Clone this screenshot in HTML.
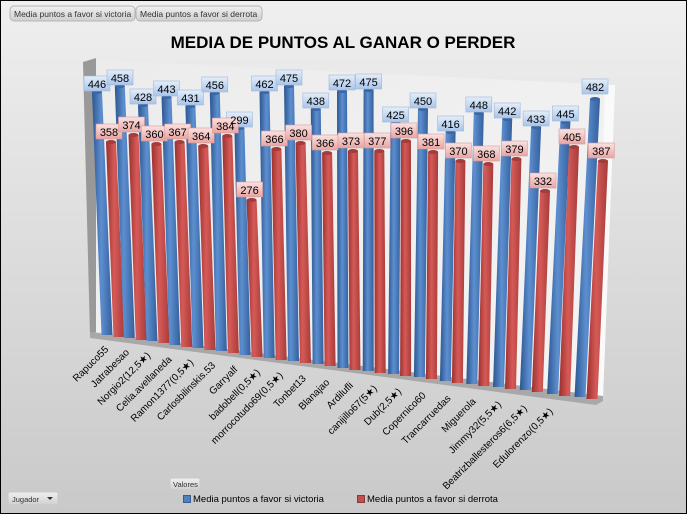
<!DOCTYPE html>
<html><head><meta charset="utf-8"><style>
html,body{margin:0;padding:0}
body{width:688px;height:515px;overflow:hidden;font-family:"Liberation Sans","DejaVu Sans",sans-serif}
</style></head><body>
<svg width="688" height="515" viewBox="0 0 688 515" xmlns="http://www.w3.org/2000/svg" font-family="Liberation Sans, DejaVu Sans, sans-serif">
<defs>
<linearGradient id="bg" x1="0" y1="0" x2="0" y2="1"><stop offset="0" stop-color="#efefef"/><stop offset="1" stop-color="#c9c9c9"/></linearGradient>
<linearGradient id="wall" x1="0" y1="0" x2="1" y2="1"><stop offset="0" stop-color="#ececec"/><stop offset="1" stop-color="#f4f4f4"/></linearGradient>
<linearGradient id="bl" x1="0" y1="0" x2="1" y2="0"><stop offset="0" stop-color="#2c5690"/><stop offset="0.45" stop-color="#5d8fd0"/><stop offset="1" stop-color="#345f9c"/></linearGradient>
<linearGradient id="rd" x1="0" y1="0" x2="1" y2="0"><stop offset="0" stop-color="#9a302e"/><stop offset="0.45" stop-color="#d65a57"/><stop offset="1" stop-color="#a63c3a"/></linearGradient>
<linearGradient id="lb" x1="0" y1="0" x2="0" y2="1"><stop offset="0" stop-color="#e4eefa"/><stop offset="1" stop-color="#a9c5ea"/></linearGradient>
<linearGradient id="lr" x1="0" y1="0" x2="0" y2="1"><stop offset="0" stop-color="#fbe2e1"/><stop offset="1" stop-color="#e7a5a3"/></linearGradient>
<linearGradient id="btn" x1="0" y1="0" x2="0" y2="1"><stop offset="0" stop-color="#f0f0f0"/><stop offset="1" stop-color="#cfcfcf"/></linearGradient>
</defs>
<rect x="0.5" y="0.5" width="686" height="513" fill="url(#bg)" stroke="#000" stroke-width="1"/>
<rect x="10" y="6" width="125" height="15" rx="4" fill="url(#btn)" stroke="#b5b5b5"/>
<text x="14" y="17" font-size="8.5" fill="#333">Media puntos a favor si victoria</text>
<rect x="136" y="6" width="126" height="15" rx="4" fill="url(#btn)" stroke="#b5b5b5"/>
<text x="140" y="17" font-size="8.5" fill="#333">Media puntos a favor si derrota</text>
<text x="343" y="48" font-size="17" font-weight="bold" text-anchor="middle" fill="#000">MEDIA DE PUNTOS AL GANAR O PERDER</text>
<polygon points="95,60 615,85 603,398 95,332" fill="url(#wall)"/>
<polygon points="605,85 615,85 603,398 596,398" fill="#fafafa"/>
<polygon points="83,62 96,58 96,332 90,336" fill="#999"/>
<polygon points="90,332 603,396 603,401 596,405 90,338" fill="#a8a8a8"/>
<g stroke="none">
<path d="M92,92 L102,92 L112.5,335 L101.5,335Z" fill="url(#bl)"/><ellipse cx="97" cy="92" rx="5" ry="2" fill="#3a66a5"/>
<path d="M106,142 L116,142 L124.5,337 L113.5,337Z" fill="url(#rd)"/><ellipse cx="111" cy="142" rx="5" ry="2" fill="#a33c3a"/>
<path d="M114.8,86 L124.8,86 L134.8,338 L123.8,338Z" fill="url(#bl)"/><ellipse cx="119.8" cy="86" rx="5" ry="2" fill="#3a66a5"/>
<path d="M128.5,135 L138.5,135 L146.8,340 L135.8,340Z" fill="url(#rd)"/><ellipse cx="133.5" cy="135" rx="5" ry="2" fill="#a33c3a"/>
<path d="M138,105 L148,105 L157.5,341 L146.5,341Z" fill="url(#bl)"/><ellipse cx="143" cy="105" rx="5" ry="2" fill="#3a66a5"/>
<path d="M151.4,144 L161.4,144 L169.5,343 L158.5,343Z" fill="url(#rd)"/><ellipse cx="156.4" cy="144" rx="5" ry="2" fill="#a33c3a"/>
<path d="M161.5,97 L171.5,97 L180.3,345 L169.3,345Z" fill="url(#bl)"/><ellipse cx="166.5" cy="97" rx="5" ry="2" fill="#3a66a5"/>
<path d="M174.6,142 L184.6,142 L192.3,347 L181.3,347Z" fill="url(#rd)"/><ellipse cx="179.6" cy="142" rx="5" ry="2" fill="#a33c3a"/>
<path d="M185.4,106 L195.4,106 L203.5,348 L192.5,348Z" fill="url(#bl)"/><ellipse cx="190.4" cy="106" rx="5" ry="2" fill="#3a66a5"/>
<path d="M198.2,146 L208.2,146 L215.5,350 L204.5,350Z" fill="url(#rd)"/><ellipse cx="203.2" cy="146" rx="5" ry="2" fill="#a33c3a"/>
<path d="M209.8,93 L219.8,93 L226.9,351 L215.9,351Z" fill="url(#bl)"/><ellipse cx="214.8" cy="93" rx="5" ry="2" fill="#3a66a5"/>
<path d="M222.3,136 L232.3,136 L238.9,353 L227.9,353Z" fill="url(#rd)"/><ellipse cx="227.3" cy="136" rx="5" ry="2" fill="#a33c3a"/>
<path d="M234.4,128 L244.4,128 L250.6,355 L239.6,355Z" fill="url(#bl)"/><ellipse cx="239.4" cy="128" rx="5" ry="2" fill="#3a66a5"/>
<path d="M246.6,200 L256.6,200 L262.6,357 L251.6,357Z" fill="url(#rd)"/><ellipse cx="251.6" cy="200" rx="5" ry="2" fill="#a33c3a"/>
<path d="M259.5,92 L269.5,92 L274.7,358 L263.7,358Z" fill="url(#bl)"/><ellipse cx="264.5" cy="92" rx="5" ry="2" fill="#3a66a5"/>
<path d="M271.4,149 L281.4,149 L286.7,360 L275.7,360Z" fill="url(#rd)"/><ellipse cx="276.4" cy="149" rx="5" ry="2" fill="#a33c3a"/>
<path d="M284,86 L294,86 L299,361 L288,361Z" fill="url(#bl)"/><ellipse cx="289" cy="86" rx="5" ry="2" fill="#3a66a5"/>
<path d="M295.6,143 L305.6,143 L311,363 L300,363Z" fill="url(#rd)"/><ellipse cx="300.6" cy="143" rx="5" ry="2" fill="#a33c3a"/>
<path d="M310.8,109 L320.8,109 L323.6,364 L312.6,364Z" fill="url(#bl)"/><ellipse cx="315.8" cy="109" rx="5" ry="2" fill="#3a66a5"/>
<path d="M322.1,153 L332.1,153 L335.6,366 L324.6,366Z" fill="url(#rd)"/><ellipse cx="327.1" cy="153" rx="5" ry="2" fill="#a33c3a"/>
<path d="M337,91 L347,91 L348.5,368 L337.5,368Z" fill="url(#bl)"/><ellipse cx="342" cy="91" rx="5" ry="2" fill="#3a66a5"/>
<path d="M348,151 L358,151 L360.5,370 L349.5,370Z" fill="url(#rd)"/><ellipse cx="353" cy="151" rx="5" ry="2" fill="#a33c3a"/>
<path d="M363.6,90 L373.6,90 L373.7,371 L362.7,371Z" fill="url(#bl)"/><ellipse cx="368.6" cy="90" rx="5" ry="2" fill="#3a66a5"/>
<path d="M374.3,151 L384.3,151 L385.7,373 L374.7,373Z" fill="url(#rd)"/><ellipse cx="379.3" cy="151" rx="5" ry="2" fill="#a33c3a"/>
<path d="M390.6,123 L400.6,123 L399.1,374 L388.1,374Z" fill="url(#bl)"/><ellipse cx="395.6" cy="123" rx="5" ry="2" fill="#3a66a5"/>
<path d="M401,141 L411,141 L411.1,376 L400.1,376Z" fill="url(#rd)"/><ellipse cx="406" cy="141" rx="5" ry="2" fill="#a33c3a"/>
<path d="M418,109 L428,109 L424.9,377 L413.9,377Z" fill="url(#bl)"/><ellipse cx="423" cy="109" rx="5" ry="2" fill="#3a66a5"/>
<path d="M428.1,152 L438.1,152 L436.9,379 L425.9,379Z" fill="url(#rd)"/><ellipse cx="433.1" cy="152" rx="5" ry="2" fill="#a33c3a"/>
<path d="M445.6,132 L455.6,132 L450.9,381 L439.9,381Z" fill="url(#bl)"/><ellipse cx="450.6" cy="132" rx="5" ry="2" fill="#3a66a5"/>
<path d="M455.4,161 L465.4,161 L462.9,383 L451.9,383Z" fill="url(#rd)"/><ellipse cx="460.4" cy="161" rx="5" ry="2" fill="#a33c3a"/>
<path d="M473.8,113 L483.8,113 L477.3,384 L466.3,384Z" fill="url(#bl)"/><ellipse cx="478.8" cy="113" rx="5" ry="2" fill="#3a66a5"/>
<path d="M483.3,164 L493.3,164 L489.3,386 L478.3,386Z" fill="url(#rd)"/><ellipse cx="488.3" cy="164" rx="5" ry="2" fill="#a33c3a"/>
<path d="M502.2,119 L512.2,119 L504,387 L493,387Z" fill="url(#bl)"/><ellipse cx="507.2" cy="119" rx="5" ry="2" fill="#3a66a5"/>
<path d="M511.4,159 L521.4,159 L516,389 L505,389Z" fill="url(#rd)"/><ellipse cx="516.4" cy="159" rx="5" ry="2" fill="#a33c3a"/>
<path d="M531.1,127 L541.1,127 L530.8,390 L519.8,390Z" fill="url(#bl)"/><ellipse cx="536.1" cy="127" rx="5" ry="2" fill="#3a66a5"/>
<path d="M540,191 L550,191 L542.8,392 L531.8,392Z" fill="url(#rd)"/><ellipse cx="545" cy="191" rx="5" ry="2" fill="#a33c3a"/>
<path d="M560.4,122 L570.4,122 L558.1,394 L547.1,394Z" fill="url(#bl)"/><ellipse cx="565.4" cy="122" rx="5" ry="2" fill="#3a66a5"/>
<path d="M569,147 L579,147 L570.1,396 L559.1,396Z" fill="url(#rd)"/><ellipse cx="574" cy="147" rx="5" ry="2" fill="#a33c3a"/>
<path d="M590,99 L600,99 L585.5,397 L574.5,397Z" fill="url(#bl)"/><ellipse cx="595" cy="99" rx="5" ry="2" fill="#3a66a5"/>
<path d="M598,161 L608,161 L597.5,399 L586.5,399Z" fill="url(#rd)"/><ellipse cx="603" cy="161" rx="5" ry="2" fill="#a33c3a"/>
</g>
<g font-size="11" text-anchor="middle" fill="#000">
<g stroke="#9fb6d6" stroke-width="0.6">
<rect x="84" y="76" width="26" height="15" fill="url(#lb)"/><rect x="107" y="70" width="26" height="15" fill="url(#lb)"/><rect x="130" y="89" width="26" height="15" fill="url(#lb)"/><rect x="153.5" y="81" width="26" height="15" fill="url(#lb)"/><rect x="177.4" y="90" width="26" height="15" fill="url(#lb)"/><rect x="201.8" y="77" width="26" height="15" fill="url(#lb)"/><rect x="226.4" y="112" width="26" height="15" fill="url(#lb)"/><rect x="251.5" y="76" width="26" height="15" fill="url(#lb)"/><rect x="276" y="70" width="26" height="15" fill="url(#lb)"/><rect x="302.8" y="93" width="26" height="15" fill="url(#lb)"/><rect x="329" y="75" width="26" height="15" fill="url(#lb)"/><rect x="355.6" y="74" width="26" height="15" fill="url(#lb)"/><rect x="382.6" y="107" width="26" height="15" fill="url(#lb)"/><rect x="410" y="93" width="26" height="15" fill="url(#lb)"/><rect x="437.6" y="116" width="26" height="15" fill="url(#lb)"/><rect x="465.8" y="97" width="26" height="15" fill="url(#lb)"/><rect x="494.2" y="103" width="26" height="15" fill="url(#lb)"/><rect x="523.1" y="111" width="26" height="15" fill="url(#lb)"/><rect x="552.4" y="106" width="26" height="15" fill="url(#lb)"/><rect x="582" y="79" width="26" height="15" fill="url(#lb)"/>
</g>
<g stroke="#d69a98" stroke-width="0.6">
<rect x="96" y="124" width="26" height="15" fill="url(#lr)"/><rect x="118.5" y="117" width="26" height="15" fill="url(#lr)"/><rect x="141.4" y="126" width="26" height="15" fill="url(#lr)"/><rect x="164.6" y="124" width="26" height="15" fill="url(#lr)"/><rect x="188.2" y="128" width="26" height="15" fill="url(#lr)"/><rect x="212.3" y="118" width="26" height="15" fill="url(#lr)"/><rect x="236.6" y="182" width="26" height="15" fill="url(#lr)"/><rect x="261.4" y="131" width="26" height="15" fill="url(#lr)"/><rect x="285.6" y="125" width="26" height="15" fill="url(#lr)"/><rect x="312.1" y="135" width="26" height="15" fill="url(#lr)"/><rect x="338" y="133" width="26" height="15" fill="url(#lr)"/><rect x="364.3" y="133" width="26" height="15" fill="url(#lr)"/><rect x="391" y="123" width="26" height="15" fill="url(#lr)"/><rect x="418.1" y="134" width="26" height="15" fill="url(#lr)"/><rect x="445.4" y="143" width="26" height="15" fill="url(#lr)"/><rect x="473.3" y="146" width="26" height="15" fill="url(#lr)"/><rect x="501.4" y="141" width="26" height="15" fill="url(#lr)"/><rect x="530" y="173" width="26" height="15" fill="url(#lr)"/><rect x="559" y="129" width="26" height="15" fill="url(#lr)"/><rect x="588.3" y="143" width="26" height="15" fill="url(#lr)"/>
</g>
<text x="97" y="88">446</text><text x="120" y="82">458</text><text x="143" y="101">428</text><text x="166.5" y="93">443</text><text x="190.4" y="102">431</text><text x="214.8" y="89">456</text><text x="239.4" y="124">299</text><text x="264.5" y="88">462</text><text x="289" y="82">475</text><text x="315.8" y="105">438</text><text x="342" y="87">472</text><text x="368.6" y="86">475</text><text x="395.6" y="119">425</text><text x="423" y="105">450</text><text x="450.6" y="128">416</text><text x="478.8" y="109">448</text><text x="507.2" y="115">442</text><text x="536.1" y="123">433</text><text x="565.4" y="118">445</text><text x="595" y="91">482</text>
<text x="109" y="136">358</text><text x="131.5" y="129">374</text><text x="154.4" y="138">360</text><text x="177.6" y="136">367</text><text x="201.2" y="140">364</text><text x="225.3" y="130">384</text><text x="249.6" y="194">276</text><text x="274.4" y="143">366</text><text x="298.6" y="137">380</text><text x="325.1" y="147">366</text><text x="351" y="145">373</text><text x="377.3" y="145">377</text><text x="404" y="135">396</text><text x="431.1" y="146">381</text><text x="458.4" y="155">370</text><text x="486.3" y="158">368</text><text x="514.4" y="153">379</text><text x="543" y="185">332</text><text x="572" y="141">405</text><text x="601.3" y="155">387</text>
</g>
<g font-size="10" text-anchor="end" fill="#000">
<text transform="translate(109,350) rotate(-45)">Rapuco55</text>
<text transform="translate(129.8,353) rotate(-45)">Jatrabesao</text>
<text transform="translate(151,356) rotate(-45)">Norgio2(12,5★)</text>
<text transform="translate(172.3,360) rotate(-45)">Celia.avellaneda</text>
<text transform="translate(194,363) rotate(-45)">Ramon1377(0,5★)</text>
<text transform="translate(215.9,366) rotate(-45)">Carlosbilinskis.53</text>
<text transform="translate(238.1,370) rotate(-45)">Garryalf</text>
<text transform="translate(260.7,373) rotate(-45)">badobell(0,5★)</text>
<text transform="translate(283.5,376) rotate(-45)">morrocotudo69(0,5★)</text>
<text transform="translate(306.6,379) rotate(-45)">Tonbet13</text>
<text transform="translate(330,383) rotate(-45)">Blanajao</text>
<text transform="translate(353.7,386) rotate(-45)">Ardilufli</text>
<text transform="translate(377.6,389) rotate(-45)">canijillo67(5★)</text>
<text transform="translate(401.9,392) rotate(-45)">Dub(2,5★)</text>
<text transform="translate(426.4,396) rotate(-45)">Copernico60</text>
<text transform="translate(451.3,399) rotate(-45)">Trancarruedas</text>
<text transform="translate(476.5,402) rotate(-45)">Miguerola</text>
<text transform="translate(501.8,405) rotate(-45)">Jimmy32(5,5★)</text>
<text transform="translate(527.6,409) rotate(-45)">Beatrizballesteros6(6,5★)</text>
<text transform="translate(553.5,412) rotate(-45)">Edulorenzo(0,5★)</text>
</g>
<rect x="170" y="478" width="30" height="12" rx="2" fill="url(#btn)" stroke="#c8c8c8"/>
<text x="173" y="487" font-size="7.5" fill="#333">Valores</text>
<rect x="8" y="492" width="50" height="13" rx="2" fill="url(#btn)" stroke="#c8c8c8"/>
<text x="12" y="502" font-size="7.5" fill="#333">Jugador</text>
<polygon points="47,497 53,497 50,500" fill="#333"/>
<rect x="183.5" y="495.5" width="7" height="7" fill="#4f81bd" stroke="#385d8a"/>
<text x="193" y="502" font-size="9.5" fill="#000">Media puntos a favor si victoria</text>
<rect x="357.5" y="495.5" width="7" height="7" fill="#c0504d" stroke="#8c3836"/>
<text x="367" y="502" font-size="9.5" fill="#000">Media puntos a favor si derrota</text>
</svg>
</body></html>
